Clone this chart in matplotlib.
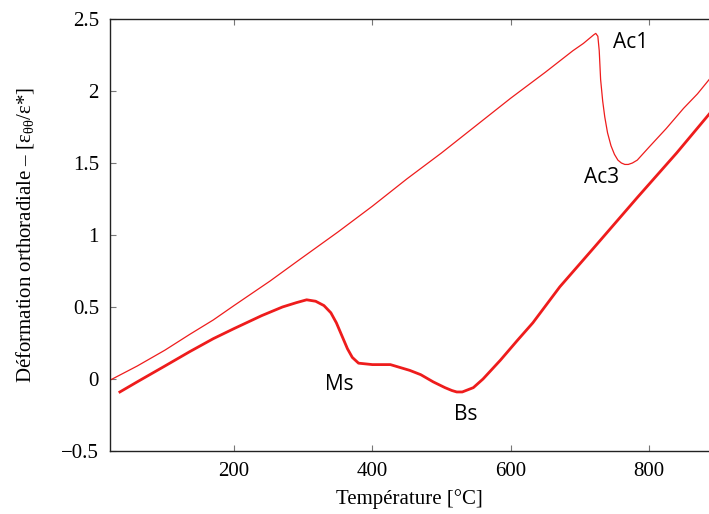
import numpy as np
import matplotlib
matplotlib.use("Agg")
import matplotlib.pyplot as plt

# Heating curve (thin line)
heat_T = [20, 60, 100, 136, 170, 200, 252, 295, 350, 400, 450, 500, 550, 600, 650,
          690, 705, 715, 720, 723, 726, 728, 730, 733, 736, 740, 745, 750,
          755, 760, 765, 770, 776, 783, 800, 825, 850, 870, 887]
heat_eps = [-0.01, 0.09, 0.20, 0.31, 0.41, 0.51, 0.68, 0.83, 1.02, 1.20, 1.39, 1.57,
            1.76, 1.95, 2.13, 2.28, 2.33, 2.37, 2.39, 2.40, 2.38, 2.28, 2.08,
            1.93, 1.82, 1.71, 1.62, 1.56, 1.52, 1.50, 1.49, 1.49, 1.50, 1.52,
            1.61, 1.74, 1.88, 1.98, 2.08]

# Cooling curve (thick line)
cool_T = [35, 60, 100, 136, 170, 200, 240, 270, 290, 305, 318, 330, 340, 348,
          356, 364, 371, 380, 400, 426, 440, 454, 470, 488, 505, 515, 522,
          530, 546, 560, 585, 610, 632, 671, 720, 783, 840, 887]
cool_eps = [-0.09, -0.02, 0.09, 0.19, 0.28, 0.35, 0.44, 0.50, 0.53, 0.55,
            0.54, 0.51, 0.46, 0.39, 0.30, 0.21, 0.15, 0.11, 0.10, 0.10, 0.08,
            0.06, 0.03, -0.02, -0.06, -0.08, -0.09, -0.09, -0.06, 0.00, 0.13,
            0.27, 0.39, 0.64, 0.91, 1.26, 1.57, 1.84]

labels = ["Ac1", "Ac3", "Ms", "Bs"]
label_T = [774, 731, 352, 535]
label_eps = [2.34, 1.40, -0.04, -0.25]

x_ticks = [200, 400, 600, 800]
y_ticks = [-0.5, 0, 0.5, 1, 1.5, 2, 2.5]
y_ticklabels = ["\u22120.5", "0", "0.5", "1", "1.5", "2", "2.5"]

plt.rcParams.update({
    "font.family": ["Liberation Serif", "DejaVu Serif"],
    "mathtext.fontset": "custom",
    "mathtext.rm": "Liberation Serif",
    "mathtext.it": "Liberation Serif",
    "font.size": 15,
})

fig = plt.figure(figsize=(7.09, 5.14), dpi=100)
ax = fig.add_axes([110 / 709, 1 - 451 / 514, 1 - 110 / 709, (451 - 19) / 514])

ax.plot(heat_T, heat_eps, color="#ee1c1c", lw=0.9)
ax.plot(cool_T, cool_eps, color="#ee1c1c", lw=2.0)

for txt, t, e in zip(labels, label_T, label_eps):
    ax.text(t, e, txt, family="Open Sans", fontsize=15, ha="center", va="center")

ax.set_xlim(20.7, 886.7)
ax.set_ylim(-0.5, 2.5)
ax.set_xticks(x_ticks)
ax.set_yticks(y_ticks)
ax.set_yticklabels(y_ticklabels)
ax.tick_params(direction="in", length=4, width=0.8, color="#777777",
               top=True, right=False, labelsize=15, pad=8)
ax.spines["right"].set_visible(False)
for s in ["left", "bottom", "top"]:
    ax.spines[s].set_linewidth(1.0)
    ax.spines[s].set_color("#222222")

ax.set_xlabel("Température [°C]", fontsize=15, labelpad=6)
ax.set_ylabel("Déformation orthoradiale \u2013 [\u03b5$_{\u03b8\u03b8}$/\u03b5*]",
              fontsize=15, labelpad=18)

fig.savefig("out.png", dpi=100)
